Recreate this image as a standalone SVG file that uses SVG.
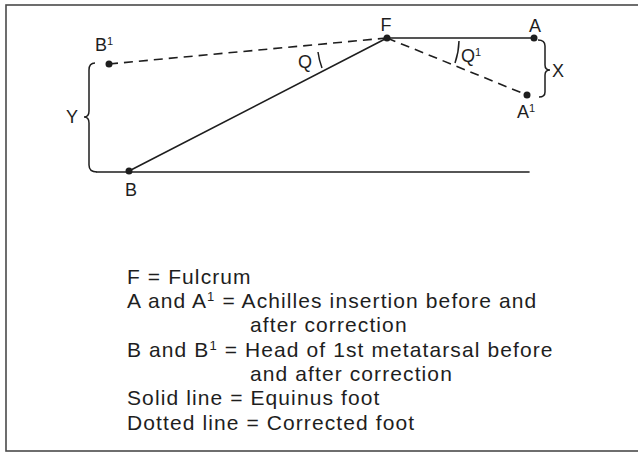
<svg xmlns="http://www.w3.org/2000/svg" width="638" height="452" viewBox="0 0 638 452">
<style>
  text { font-family: "Liberation Sans", Arial, sans-serif; fill: #1e1e1e; }
  .lbl { font-size: 18px; }
  .sup { font-size: 11px; }
  .leg { font-size: 21px; letter-spacing: 1.1px; }
  .lsup { font-size: 13px; }
  .solid { stroke: #1e1e1e; stroke-width: 1.6; fill: none; stroke-linecap: round; }
  .dash { stroke: #1e1e1e; stroke-width: 1.6; fill: none; stroke-dasharray: 9 6; }
  .thin { stroke: #1e1e1e; stroke-width: 1.5; fill: none; }
  .dot { fill: #1e1e1e; }
</style>
<rect x="0" y="0" width="638" height="452" fill="#ffffff"/>
<rect x="6" y="5" width="640" height="446" fill="none" stroke="#4a4a4a" stroke-width="1.6"/>

<g id="connectors">
  <line class="solid" x1="97" y1="172" x2="529" y2="172"/>
  <line class="solid" x1="129" y1="171" x2="387" y2="38"/>
  <line class="solid" x1="387" y1="38" x2="534" y2="38"/>
  <line class="dash" x1="109" y1="64" x2="387" y2="38"/>
  <line class="dash" x1="387" y1="38" x2="527" y2="95"/>
  <path id="angle-Q" class="thin" d="M318,52 A71,71 0 0 0 322,68"/>
  <path id="angle-Q1" class="thin" d="M459,41 A72,72 0 0 1 455,63"/>
  <path id="brace-Y" class="thin" d="M95,63 Q89,63 89,70 L89,111 Q89,117 84,117 Q89,117 89,123 L89,165 Q89,172 97,172"/>
  <path id="brace-X" class="thin" d="M538,40 Q545,40 545,46 L545,65 Q545,70 550,70 Q545,70 545,75 L545,92 Q545,97 539,97"/>
</g>

<g id="node-F">
  <circle class="dot" cx="387" cy="38" r="3.5"/>
  <text class="lbl" x="386" y="31" text-anchor="middle">F</text>
</g>
<g id="node-A">
  <circle class="dot" cx="534" cy="38" r="3.5"/>
  <text class="lbl" x="535" y="32" text-anchor="middle">A</text>
</g>
<g id="node-A1">
  <circle class="dot" cx="527" cy="95" r="3.5"/>
  <text class="lbl" x="517" y="118">A<tspan class="sup" dy="-6">1</tspan></text>
</g>
<g id="node-B1">
  <circle class="dot" cx="109" cy="64" r="3.5"/>
  <text class="lbl" x="95" y="51">B<tspan class="sup" dy="-6">1</tspan></text>
</g>
<g id="node-B">
  <circle class="dot" cx="129" cy="171" r="3.5"/>
  <text class="lbl" x="131" y="196" text-anchor="middle">B</text>
</g>
<g id="label-Q">
  <text class="lbl" x="305" y="68" text-anchor="middle">Q</text>
</g>
<g id="label-Q1">
  <text class="lbl" x="461" y="62">Q<tspan class="sup" dy="-6">1</tspan></text>
</g>
<g id="label-X">
  <text class="lbl" x="552" y="77">X</text>
</g>
<g id="label-Y">
  <text class="lbl" x="66" y="123">Y</text>
</g>

<g id="legend">
  <text class="leg" x="127" y="284">F = Fulcrum</text>
  <text class="leg" x="127" y="308">A and A<tspan class="lsup" dy="-7">1</tspan><tspan dy="7"> = Achilles insertion before and</tspan></text>
  <text class="leg" x="250" y="332">after correction</text>
  <text class="leg" x="127" y="357">B and B<tspan class="lsup" dy="-7">1</tspan><tspan dy="7"> = Head of 1st metatarsal before</tspan></text>
  <text class="leg" x="250" y="381">and after correction</text>
  <text class="leg" x="127" y="405">Solid line = Equinus foot</text>
  <text class="leg" x="127" y="430">Dotted line = Corrected foot</text>
</g>
</svg>
